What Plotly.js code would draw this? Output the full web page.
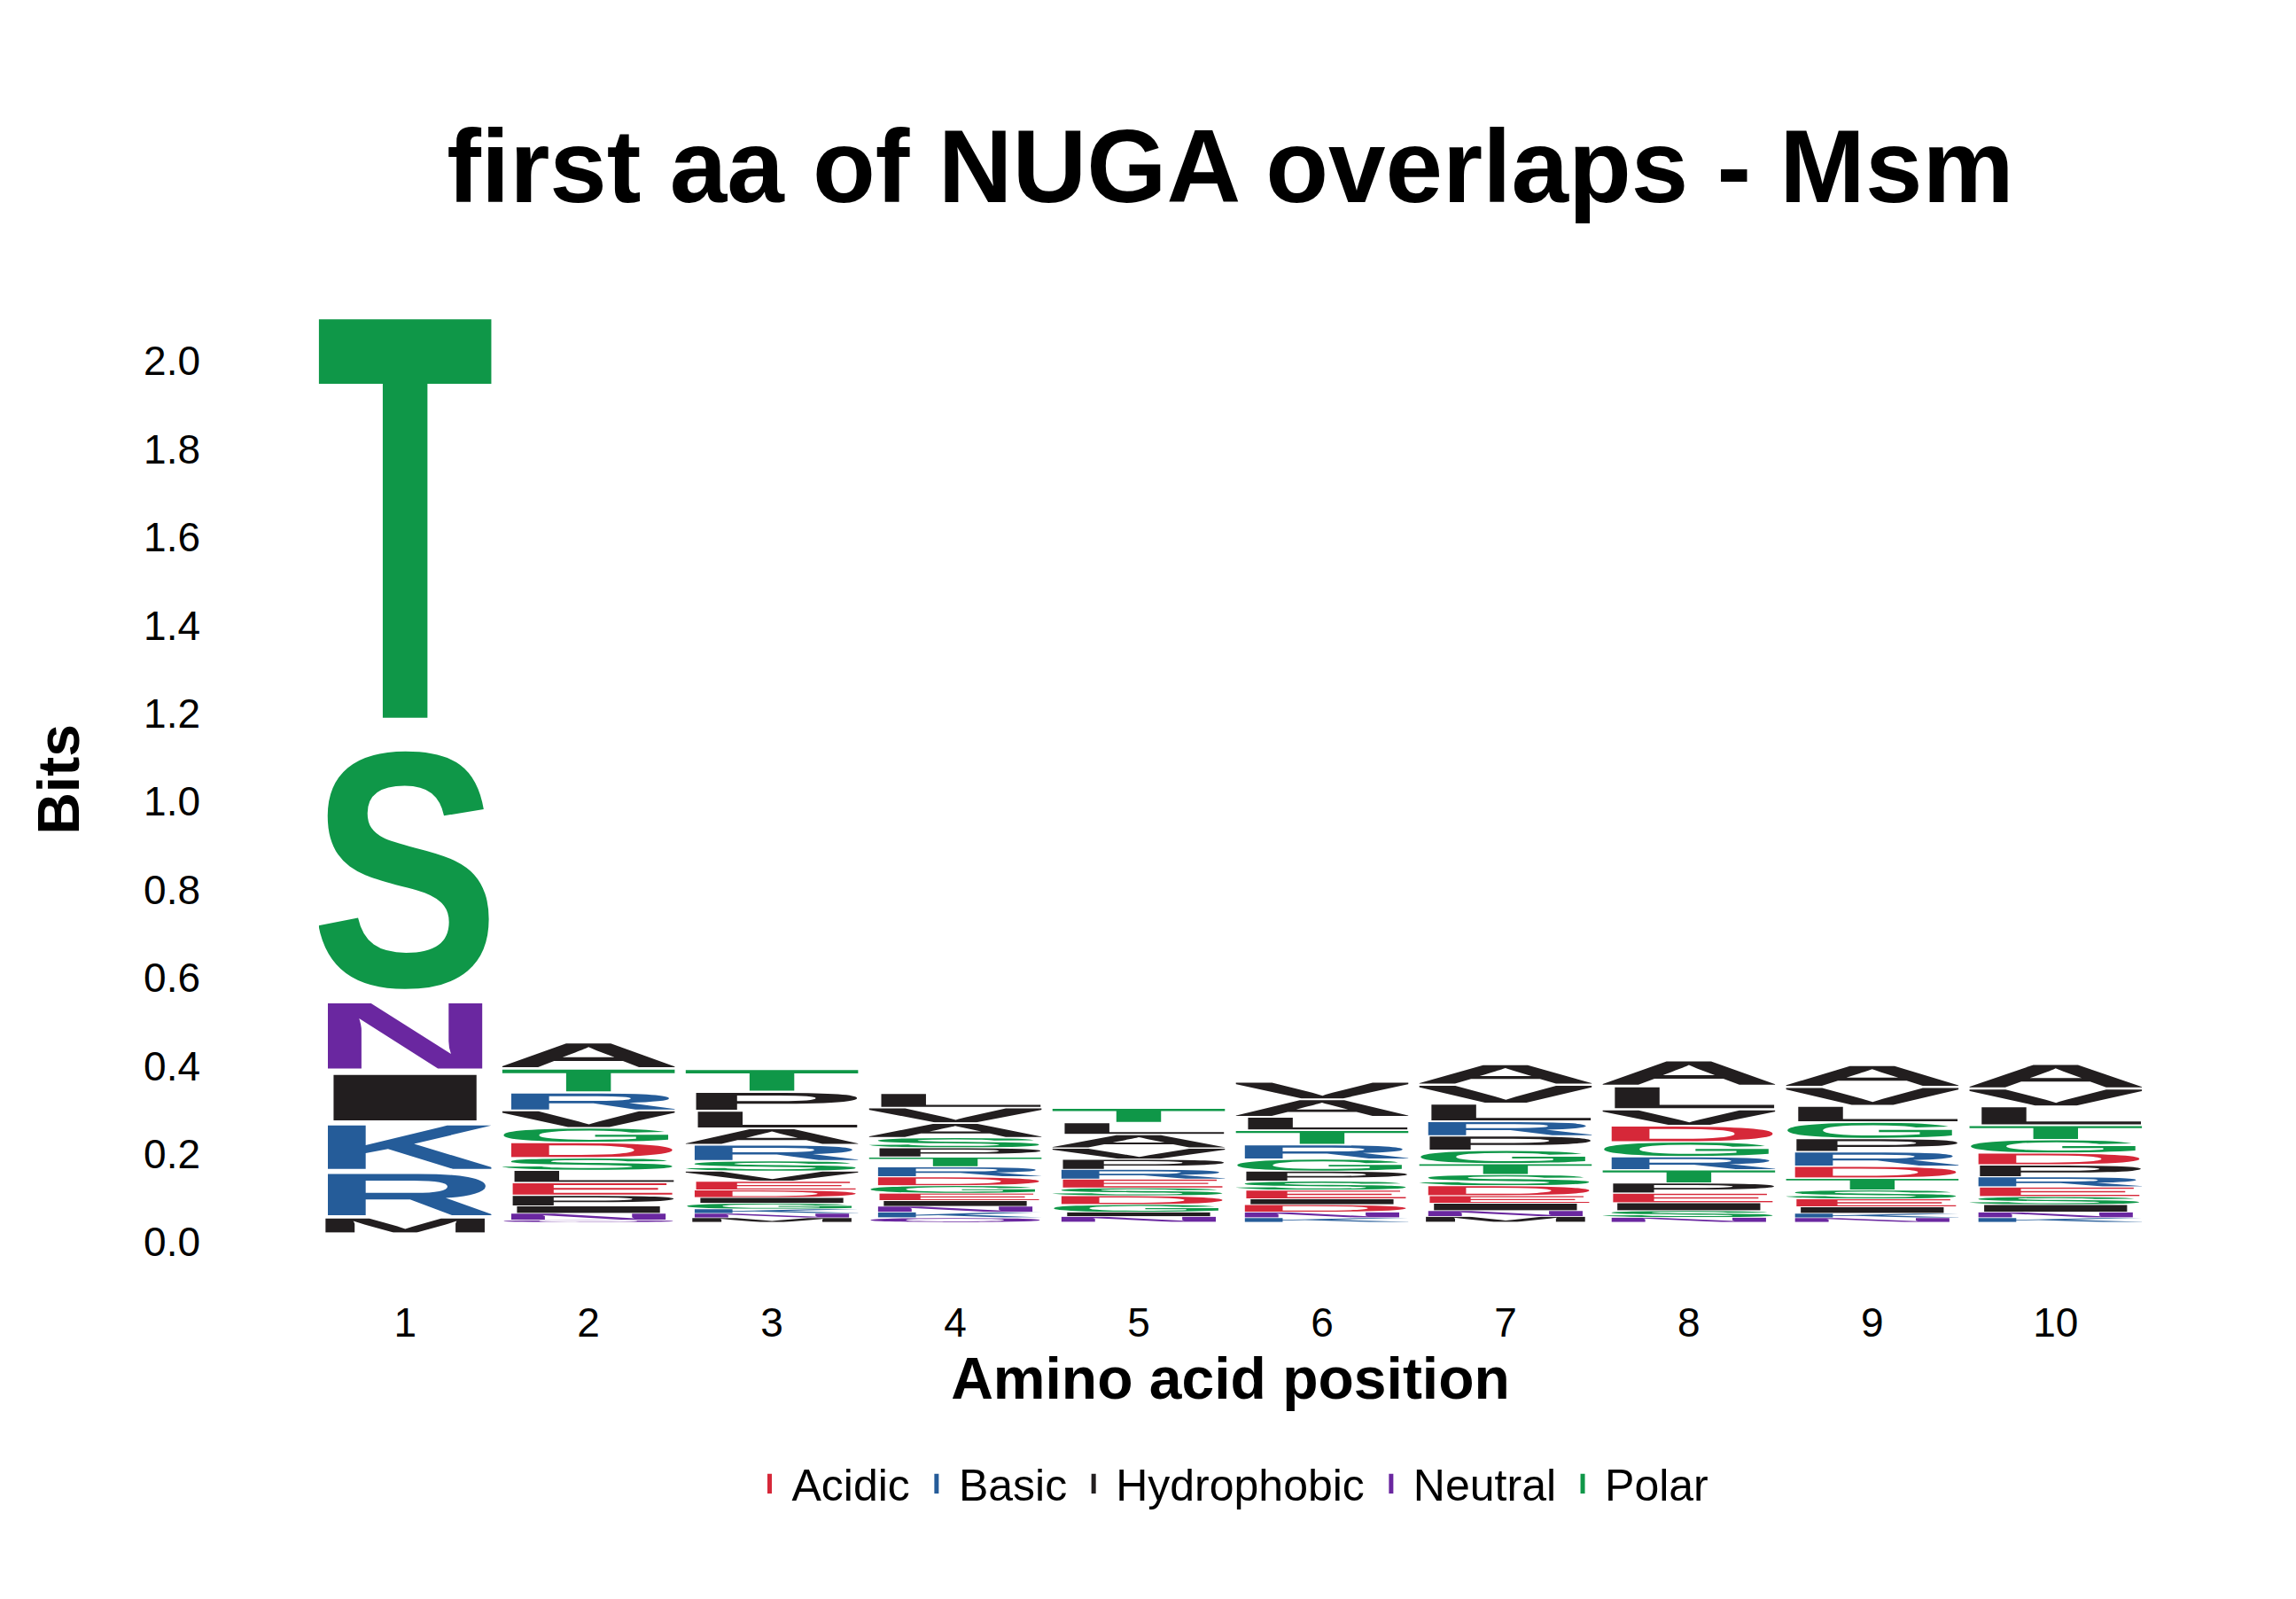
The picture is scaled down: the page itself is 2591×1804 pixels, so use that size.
<!DOCTYPE html>
<html>
<head>
<meta charset="utf-8">
<script src="https://cdn.plot.ly/plotly-3.0.1.min.js"></script>
<style>body{margin:0;background:#fff}#chart{width:2591px;height:1804px}</style>
</head>
<body>
<div id="chart"></div>
<script>
// positions 1..10, letters listed top to bottom with their height in bits
const positions = [1, 2, 3, 4, 5, 6, 7, 8, 9, 10]
const baseBits = [0.02, 0.045, 0.045, 0.045, 0.045, 0.045, 0.045, 0.045, 0.045, 0.045]
const stackLetters = [
    ["T", "S", "N", "I", "K", "R", "M"],
    ["A", "T", "R", "V", "G", "D", "S", "L", "E", "P", "I", "N", "Q"],
    ["T", "P", "L", "A", "R", "S", "V", "E", "D", "I", "G", "K", "N", "M"],
    ["L", "V", "A", "S", "P", "T", "R", "D", "G", "E", "I", "N", "K", "Q"],
    ["T", "L", "A", "V", "P", "R", "E", "S", "D", "G", "I", "N"],
    ["V", "A", "L", "T", "R", "G", "P", "S", "E", "I", "D", "N", "K"],
    ["A", "V", "L", "R", "P", "G", "T", "S", "D", "E", "I", "N", "M"],
    ["A", "L", "V", "D", "G", "R", "T", "P", "E", "I", "S", "N"],
    ["A", "V", "L", "G", "P", "R", "D", "T", "S", "E", "I", "K", "N"],
    ["A", "V", "L", "T", "G", "D", "P", "R", "E", "S", "I", "N", "K"]
]
const stackHeights = [
    [1.01, 0.585, 0.165, 0.115, 0.11, 0.105, 0.035],
    [0.06, 0.055, 0.04, 0.04, 0.033, 0.035, 0.028, 0.028, 0.029, 0.024, 0.017, 0.015, 0.005],
    [0.052, 0.043, 0.04, 0.037, 0.037, 0.023, 0.023, 0.02, 0.017, 0.013, 0.013, 0.01, 0.01, 0.01],
    [0.033, 0.035, 0.033, 0.023, 0.021, 0.022, 0.023, 0.02, 0.017, 0.017, 0.013, 0.013, 0.013, 0.01],
    [0.033, 0.027, 0.031, 0.025, 0.023, 0.022, 0.02, 0.018, 0.02, 0.017, 0.01, 0.013],
    [0.04, 0.04, 0.03, 0.033, 0.033, 0.027, 0.023, 0.02, 0.02, 0.013, 0.017, 0.013, 0.01],
    [0.047, 0.043, 0.04, 0.033, 0.033, 0.03, 0.025, 0.025, 0.023, 0.017, 0.017, 0.013, 0.013],
    [0.059, 0.053, 0.037, 0.037, 0.033, 0.03, 0.03, 0.023, 0.022, 0.018, 0.015, 0.011],
    [0.05, 0.043, 0.037, 0.037, 0.03, 0.033, 0.027, 0.027, 0.02, 0.018, 0.015, 0.01, 0.01],
    [0.057, 0.04, 0.043, 0.033, 0.03, 0.027, 0.027, 0.023, 0.022, 0.018, 0.017, 0.013, 0.01]
]
const classNames = ["Acidic", "Basic", "Hydrophobic", "Neutral", "Polar"]
const classColors = ["#d62839", "#255c99", "#221e1f", "#6a27a0", "#0f9748"]
const classMembers = ["DE", "KRH", "AVLIPFWM", "NQ", "STGYC"]

function letterColor(l) {
    const i = classMembers.findIndex(m => m.includes(l))
    return classColors[i]
}

function letterSvg(l) {
    // narrow glyphs have wide side bearings, stretch them a bit more
    const pad = l == "I" ? 30 : 5
    const svg = `<svg xmlns="http://www.w3.org/2000/svg" viewBox="0 -1 100 74.5" preserveAspectRatio="none" width="100" height="74.5">` +
        `<text x="${-pad}" y="71.6" font-family="Liberation Sans, Arial, sans-serif" font-weight="bold" font-size="100" ` +
        `textLength="${100 + 2 * pad}" lengthAdjust="spacingAndGlyphs" fill="${letterColor(l)}">${l}</text></svg>`
    return "data:image/svg+xml;charset=utf-8," + encodeURIComponent(svg)
}

const images = []
positions.forEach((pos, c) => {
    let top = baseBits[c] + stackHeights[c].reduce((a, b) => a + b, 0)
    stackLetters[c].forEach((l, k) => {
        const h = stackHeights[c][k]
        images.push({
            source: letterSvg(l),
            xref: "x", yref: "y",
            x: pos - 0.47, y: top,
            sizex: 0.94, sizey: h * 0.97,
            sizing: "stretch",
            xanchor: "left", yanchor: "top",
            layer: "above"
        })
        top -= h
    })
})

const data = classNames.map((name, i) => ({
    type: "scatter",
    mode: "markers",
    name: name,
    x: [null], y: [null],
    marker: { symbol: "line-ns", size: 30, color: classColors[i], line: { color: classColors[i], width: 14 } }
}))

const layout = {
    width: 2591,
    height: 1804,
    margin: { l: 333, r: 147, t: 308, b: 353 },
    paper_bgcolor: "#ffffff",
    plot_bgcolor: "#ffffff",
    font: { family: "Liberation Sans, Arial, sans-serif", color: "#000000", size: 46 },
    title: {
        text: "<b>first aa of NUGA overlaps - Msm</b>",
        font: { size: 116 },
        x: 0.5, xref: "paper", xanchor: "center",
        y: 0.896, yanchor: "middle"
    },
    xaxis: {
        range: [0.4, 10.6],
        tickvals: positions,
        showgrid: false, zeroline: false, showline: false,
        ticks: "",
        ticklabelstandoff: 10,
        title: { text: "<b>Amino acid position</b>", font: { size: 66 }, standoff: 14 }
    },
    yaxis: {
        range: [-0.1, 2.2],
        tickvals: [0, 0.2, 0.4, 0.6, 0.8, 1.0, 1.2, 1.4, 1.6, 1.8, 2.0],
        tickformat: ".1f",
        showgrid: false, zeroline: false, showline: false,
        ticks: "",
        ticklabelstandoff: 106,
        title: { text: "<b>Bits</b>", font: { size: 66 }, standoff: 50 }
    },
    showlegend: true,
    legend: {
        orientation: "h",
        x: 0.5, xanchor: "center",
        y: -0.195, yanchor: "middle",
        font: { size: 50 },
        itemwidth: 40
    },
    images: images
}

Plotly.newPlot("chart", data, layout, { displayModeBar: false, staticPlot: true })
</script>
</body>
</html>
